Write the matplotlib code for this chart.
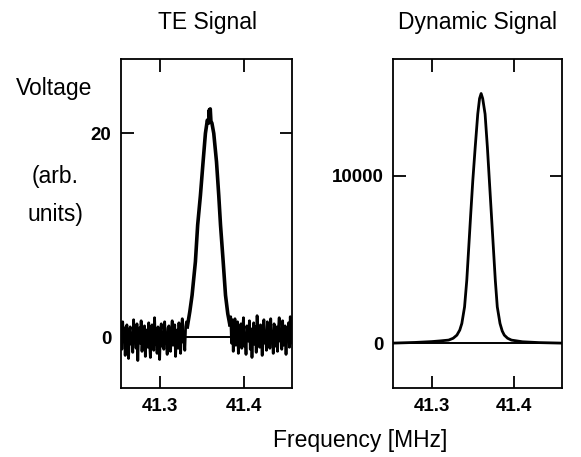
import numpy as np
import matplotlib
matplotlib.use("Agg")
import matplotlib.pyplot as plt

plt.rcParams['font.family'] = ['Liberation Sans', 'DejaVu Sans']

# TE signal: noisy baseline on both sides of the peak
te_left_start, te_left_end = 41.253, 41.3325
te_left_noise = [0.8, -1.2, 1.5, -0.4, 0.9, -1.8, 0.3, 1.2, -0.9, -2.1, 0.6, 1.0, -0.7, 0.2, -1.5, 1.7,
                 -0.3, 0.5, -1.1, 1.3, -2.3, 0.4, 0.9, -0.6, 1.6, -1.4, 0.1, -0.8, 1.1, -1.9, 0.7, 0.2,
                 -1.0, 1.4, -0.5, -2.0, 0.8, 1.2, -0.2, -1.3, 1.9, -0.7, 0.3, -1.6, 1.0, -0.1, -2.2, 0.6,
                 1.3, -0.9, 0.4, -1.2, 1.5, -0.3, 0.2, -1.7, 0.9, 1.1, -0.6, -1.4, 0.5, 1.6, -0.8, -0.2,
                 1.2, -1.9, 0.3, 0.7, -1.1, 1.4, -0.4, -1.6, 0.8, 1.8, -0.5, 0.1, -1.3, 1.0, 1.5, 1.0]
te_right_start, te_right_end = 41.3835, 41.459
te_right_noise = [1.2, 2.0, -0.6, 1.7, -1.4, 0.9, 1.8, -0.8, 0.4, 1.5, -1.6, 0.7, -0.2, 1.3, -1.1, 0.6,
                  1.9, -0.9, 0.2, -1.7, 1.1, 0.5, -0.4, 1.6, -1.2, 0.8, -2.0, 0.3, 1.4, -0.7, 1.0, -1.5,
                  2.1, -0.3, 0.6, -1.0, 1.2, 0.1, -1.8, 0.9, 1.7, -0.6, 0.4, -1.3, 1.5, -0.2, 0.8, -1.1,
                  1.8, -0.5, 0.2, -1.6, 1.3, 0.6, -0.9, 1.0, -1.4, 0.7, 1.9, -0.4, 0.3, -1.2, 1.6, -0.8,
                  0.5, 1.1, -1.7, 0.9, -0.1, 1.4, -1.0, 2.0, 0.2, -0.6, 1.2]
te_peak_f = [41.3325, 41.3355, 41.3382, 41.3422, 41.3449, 41.3482, 41.3514, 41.3542, 41.3565, 41.3580,
             41.3588, 41.3594, 41.3600, 41.3608, 41.3620, 41.3642, 41.3675, 41.3702, 41.3723, 41.3755,
             41.3783, 41.3810, 41.3835]
te_peak_v = [1.0, 2.5, 4.1, 7.4, 11.0, 13.9, 17.2, 20.0, 21.3, 21.0, 22.3, 21.6, 22.4, 21.2, 21.0, 20.0,
             17.2, 13.9, 11.0, 7.4, 4.1, 2.3, 1.2]

# Dynamic signal: smooth peak
dyn_f = [41.253, 41.280, 41.300, 41.310, 41.3205, 41.3260, 41.3305, 41.3340, 41.3365, 41.3398,
         41.3425, 41.3449, 41.3473, 41.3498, 41.3527, 41.3558, 41.3580, 41.3599, 41.3618, 41.3647,
         41.3675, 41.3699, 41.3723, 41.3747, 41.3771, 41.3795, 41.3828, 41.3855, 41.3880, 41.3920,
         41.3967, 41.410, 41.430, 41.457]
dyn_v = [0, 40, 90, 130, 180, 290, 476, 780, 1173, 2161, 3750, 5732, 7720, 9702, 11685, 13673, 14600,
         14899, 14600, 13673, 11685, 9702, 7720, 5732, 3750, 2161, 1173, 720, 476, 290, 179, 80, 30, 0]

W, H = 581, 457
fig = plt.figure(figsize=(W / 100, H / 100), dpi=100)

def box(x0, x1, y0, y1):
    return [x0 / W, 1 - y1 / H, (x1 - x0) / W, (y1 - y0) / H]

ax1 = fig.add_axes(box(121, 292, 59, 388))
ax2 = fig.add_axes(box(393, 562, 59, 388))

# left panel
xl = np.linspace(te_left_start, te_left_end, len(te_left_noise))
xr = np.linspace(te_right_start, te_right_end, len(te_right_noise))
ax1.plot(xl, te_left_noise, color='black', lw=2.0)
ax1.plot(xr, te_right_noise, color='black', lw=2.0)
ax1.plot(te_peak_f, te_peak_v, color='black', lw=2.6)
ax1.plot([te_left_end, te_right_start], [0, 0], color='black', lw=1.4)
ax1.set_ylim(-5, 27.3)
ax1.set_yticks([0, 20])

# right panel
ax2.axhline(0, color='black', lw=1.4)
ax2.plot(dyn_f, dyn_v, color='black', lw=2.0)
ax2.set_ylim(-2680, 16960)
ax2.set_yticks([0, 10000])

for ax in (ax1, ax2):
    ax.set_xlim(41.253, 41.458)
    ax.set_xticks([41.3, 41.4])
    ax.set_xticklabels(['41.3', '41.4'])
    ax.tick_params(direction='in', top=True, right=True, length=9, width=1.3,
                   labelsize=13.5, pad=7)
    for lab in ax.get_xticklabels() + ax.get_yticklabels():
        lab.set_fontweight('bold')
    for s in ax.spines.values():
        s.set_linewidth(1.3)

fs = 16.5
fig.text(207 / W, 1 - 22 / H, 'TE Signal', ha='center', va='center', fontsize=fs)
fig.text(478 / W, 1 - 22 / H, 'Dynamic Signal', ha='center', va='center', fontsize=fs)
fig.text(54 / W, 1 - 88 / H, 'Voltage', ha='center', va='center', fontsize=fs)
fig.text(55 / W, 1 - 176 / H, '(arb.', ha='center', va='center', fontsize=fs)
fig.text(55 / W, 1 - 215 / H, 'units)', ha='center', va='center', fontsize=fs)
fig.text(360 / W, 1 - 440 / H, 'Frequency [MHz]', ha='center', va='center', fontsize=fs)

fig.savefig('out.png', dpi=100)
